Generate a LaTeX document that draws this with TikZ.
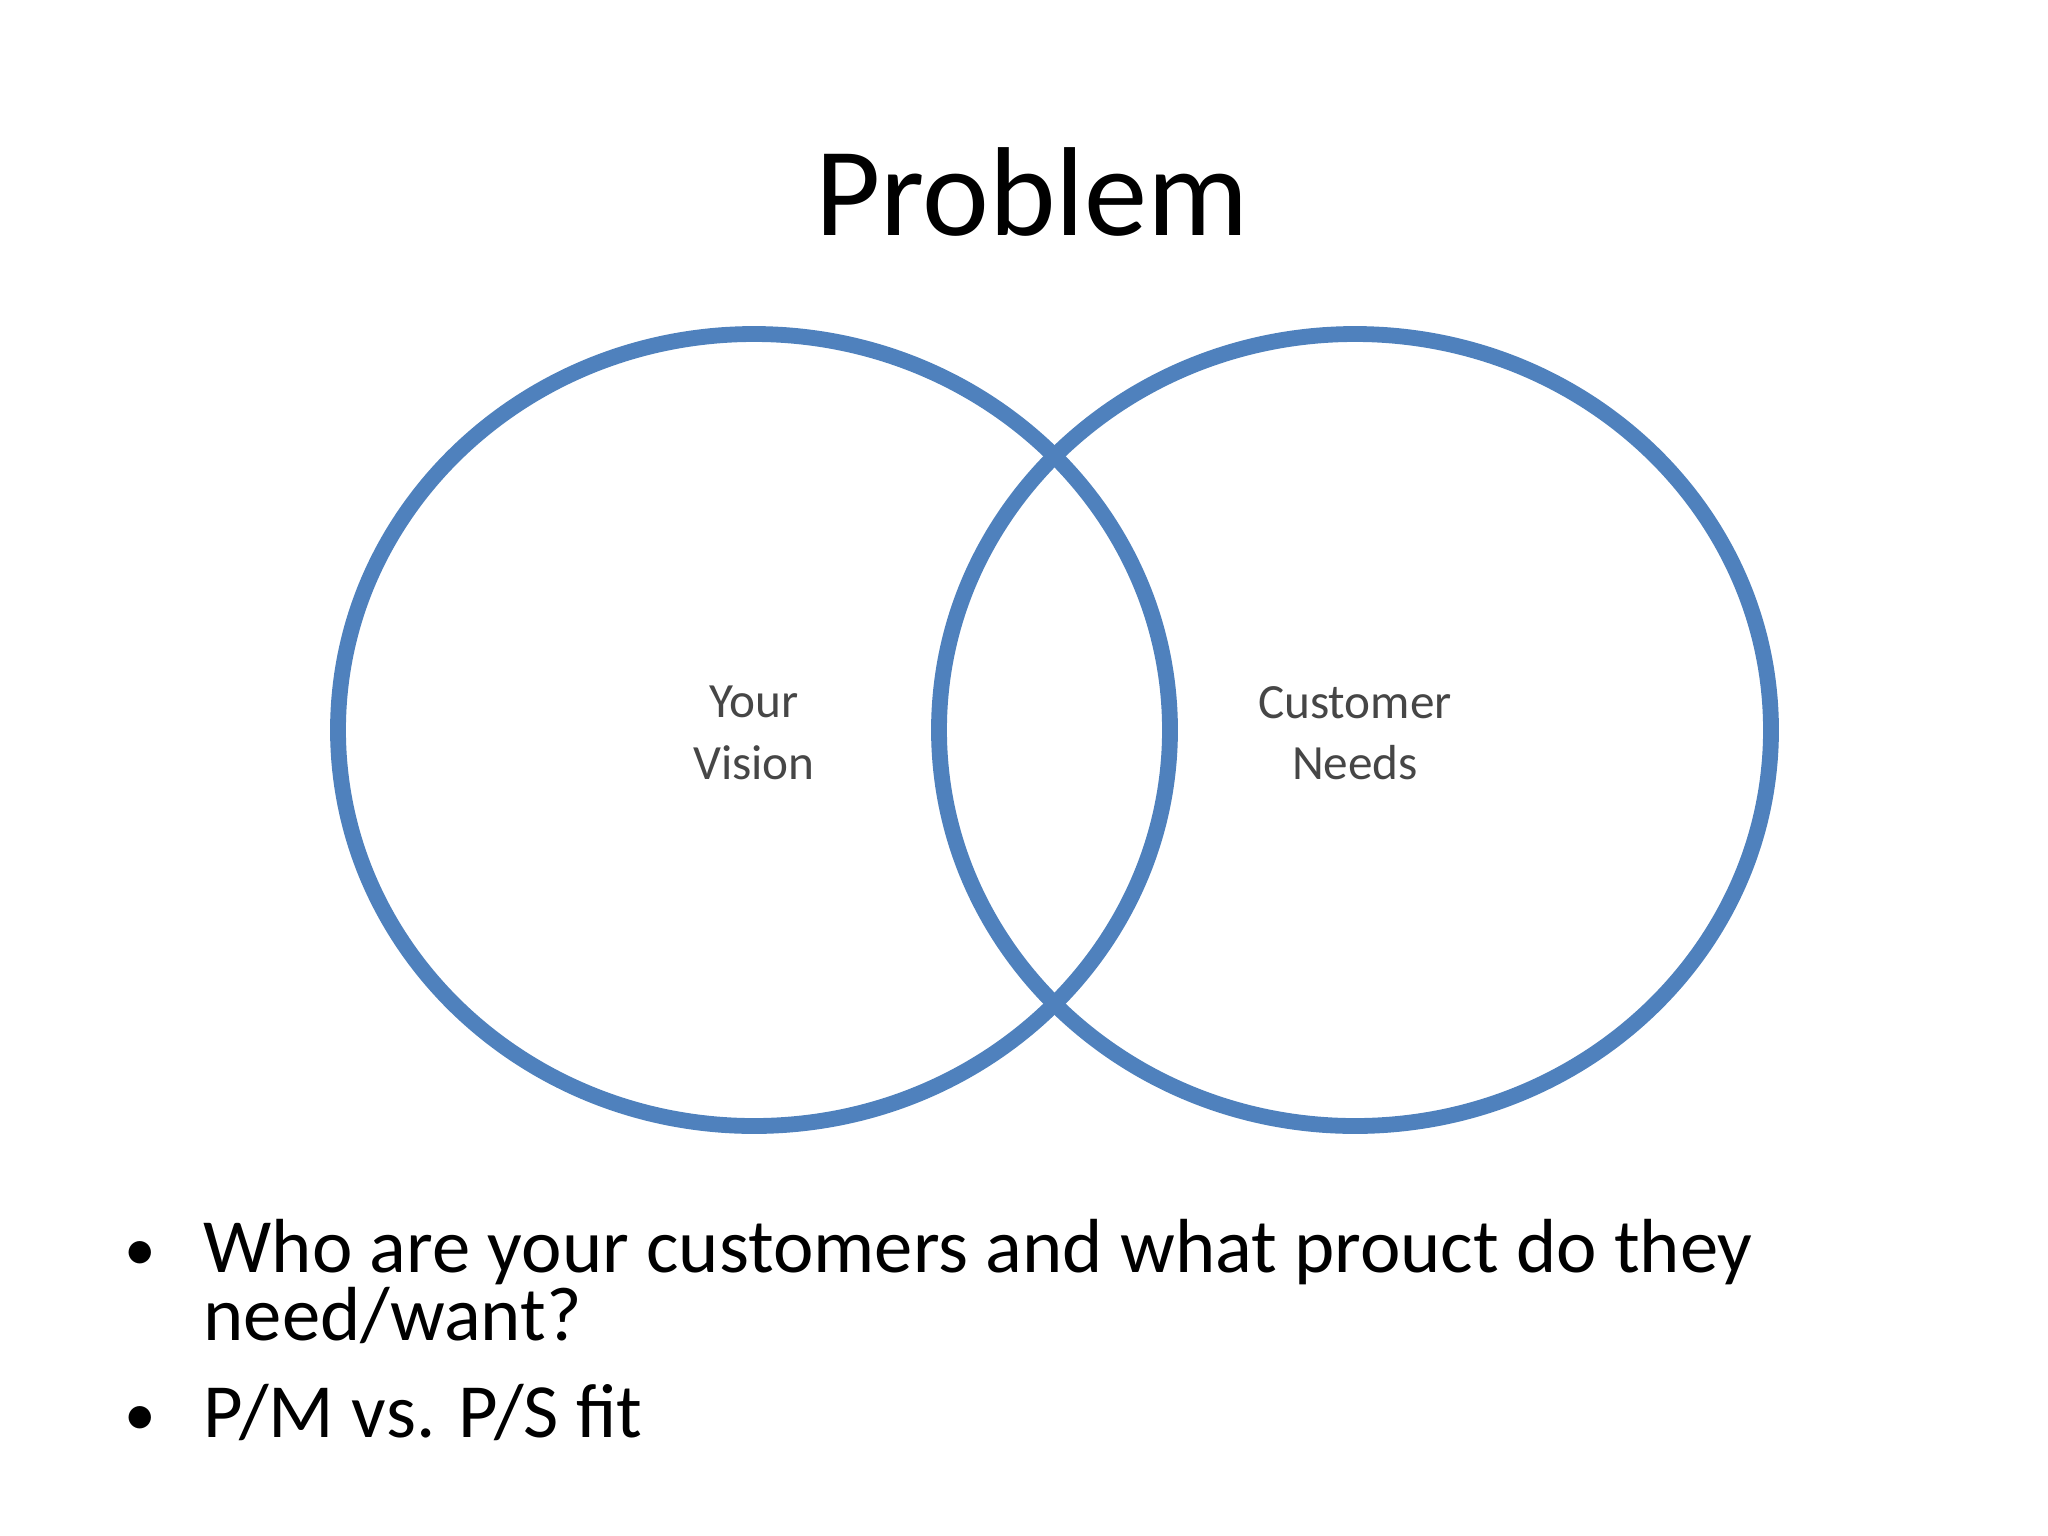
\documentclass[tikz,border=0pt]{standalone}
\usepackage{fontspec}
\setmainfont{Carlito}
\definecolor{venn}{RGB}{79,129,189}
\definecolor{lbl}{RGB}{70,70,70}
\begin{document}
\begin{tikzpicture}[x=0.01cm,y=-0.01cm,
  ring/.style={draw=venn,line width=4.5pt},
  lab/.style={text=lbl,font=\fontsize{14}{17.5}\selectfont,align=center},
  bul/.style={anchor=base west,font=\fontsize{21.8}{22}\selectfont,inner sep=0pt}]
\useasboundingbox (0,0) rectangle (2048,1536);
\node (title) [font=\fontsize{36}{40}\selectfont] at (1032,192) {Problem};
\draw[ring] (754,730) ellipse [x radius=416,y radius=396];
\draw[ring] (1355,730) ellipse [x radius=416,y radius=396];
\node (v) [lab] at (754,733) {Your\\Vision};
\node (c) [lab] at (1355,733) {Customer\\Needs};
\node (b1) [bul,font=\fontsize{18}{20}\selectfont] at (124,1270) {•};
\node (t1) [bul] at (203,1272) {Who are your customers and what prouct do they};
\node (t2) [bul] at (203,1340) {need/want?};
\node (b2) [bul,font=\fontsize{18}{20}\selectfont] at (124,1435) {•};
\node (t3) [bul] at (203,1437) {P/M vs. P/S fit};
\end{tikzpicture}
\end{document}
